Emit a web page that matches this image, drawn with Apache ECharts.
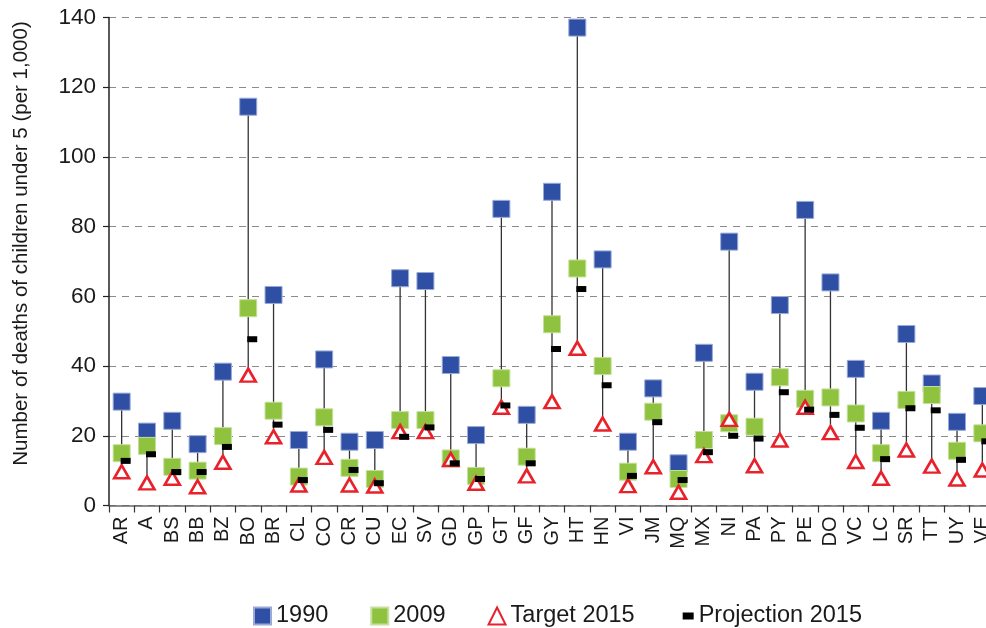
<!DOCTYPE html>
<html>
<head>
<meta charset="utf-8">
<script src="https://cdn.jsdelivr.net/npm/echarts@6/dist/echarts.min.js"></script>
<style>
  html, body { margin: 0; padding: 0; background: #fff; }
  #chart { width: 986px; height: 628px; }
</style>
</head>
<body>
<div id="chart"></div>
<script>
  const categories = ['AR', 'A', 'BS', 'BB', 'BZ', 'BO', 'BR', 'CL', 'CO', 'CR', 'CU', 'EC', 'SV', 'GD', 'GP', 'GT', 'GF', 'GY', 'HT', 'HN', 'VI', 'JM', 'MQ', 'MX', 'NI', 'PA', 'PY', 'PE', 'DO', 'VC', 'LC', 'SR', 'TT', 'UY', 'VE'];
  const y1990 = [29.8, 21.2, 24.3, 17.6, 38.4, 114.4, 60.4, 18.8, 41.9, 18.3, 18.8, 65.2, 64.4, 40.3, 20.2, 85.1, 26.0, 90.0, 137.1, 70.6, 18.3, 33.6, 12.1, 43.8, 75.7, 35.5, 57.5, 84.8, 64.0, 39.2, 24.3, 49.2, 35.0, 24.0, 31.4];
  const y2009 = [15.0, 17.1, 11.1, 10.0, 19.9, 56.6, 27.2, 8.3, 25.3, 10.8, 7.6, 24.5, 24.5, 13.5, 8.5, 36.5, 14.0, 52.0, 68.0, 40.0, 9.7, 26.9, 7.6, 18.8, 23.6, 22.6, 36.8, 30.6, 31.0, 26.4, 15.0, 30.3, 31.7, 15.7, 20.7];
  const target2015 = [9.7, 6.5, 7.8, 5.4, 12.4, 37.4, 19.7, 5.9, 13.8, 5.9, 5.6, 21.2, 21.2, 13.2, 6.4, 28.2, 8.5, 29.8, 45.1, 23.4, 5.7, 11.1, 3.8, 14.3, 24.7, 11.4, 18.8, 28.2, 20.9, 12.6, 7.8, 15.9, 11.3, 7.6, 10.2];
  const projection2015 = [12.8, 14.7, 9.6, 9.6, 16.8, 47.7, 23.2, 7.3, 21.7, 10.2, 6.4, 19.7, 22.4, 12.1, 7.6, 28.7, 12.1, 44.9, 62.1, 34.5, 8.5, 23.9, 7.3, 15.3, 20.0, 19.2, 32.5, 27.5, 26.0, 22.3, 13.3, 27.9, 27.3, 13.1, 18.4];
  const yTicks = { min: 0, max: 140, interval: 20 };

  // high-low lines: from the largest to the smallest value of each country
  const ranges = categories.map((c, i) => {
    const vals = [y1990[i], y2009[i], target2015[i], projection2015[i]];
    return [i, Math.max(...vals), Math.min(...vals)];
  });

  const font = 'Liberation Sans, Arial, sans-serif';
  // small black bar for the legend, padded out to the full icon box
  const projIcon = 'path://M0,0L0.01,0Z M17,17L17.01,17Z M6,5L17,5L17,12L6,12Z';
  const myChart = echarts.init(document.getElementById('chart'));

  myChart.setOption({
    animation: false,
    textStyle: { fontFamily: font },
    grid: { left: 109, right: -9, top: 17.5, bottom: 122.5, containLabel: false, outerBoundsMode: 'none' },
    legend: {
      bottom: -5,
      left: 248,
      itemGap: 42,
      itemWidth: 17,
      itemHeight: 17,
      textStyle: { fontSize: 23.5, color: '#1a1a1a', fontFamily: font },
      data: [
        { name: '1990', icon: 'rect' },
        { name: '2009', icon: 'rect' },
        { name: 'Target 2015', icon: 'triangle' },
        { name: 'Projection 2015', icon: projIcon, itemStyle: { color: '#000' } },
      ],
    },
    xAxis: {
      type: 'category',
      data: categories,
      axisLine: { lineStyle: { color: '#666', width: 1.5 } },
      axisTick: { show: true, length: 7, lineStyle: { color: '#333', width: 1.2 } },
      axisLabel: { rotate: 90, fontSize: 20, color: '#1a1a1a', margin: 11, fontFamily: font, interval: 0 },
    },
    yAxis: {
      type: 'value',
      min: yTicks.min,
      max: yTicks.max,
      interval: yTicks.interval,
      name: 'Number of deaths of children under 5 (per 1,000)',
      nameLocation: 'middle',
      nameGap: 77,
      nameTextStyle: { fontSize: 20.5, color: '#1a1a1a', fontFamily: font, padding: [0, 0, 0, 36] },
      axisLine: { show: true, lineStyle: { color: '#222', width: 1.5 } },
      axisTick: { show: true, length: 6, lineStyle: { color: '#222', width: 1.2 } },
      axisLabel: { fontSize: 22.5, color: '#1a1a1a', margin: 13, fontFamily: font },
      splitLine: { lineStyle: { color: '#8a8a8a', type: [7, 6], width: 1.2 } },
    },
    series: [
      {
        type: 'custom',
        name: 'range',
        z: 1,
        data: ranges,
        renderItem(params, api) {
          const top = api.coord([api.value(0), api.value(1)]);
          const bottom = api.coord([api.value(0), api.value(2)]);
          return {
            type: 'line',
            shape: { x1: top[0], y1: top[1], x2: bottom[0], y2: bottom[1] },
            style: { stroke: '#333', lineWidth: 1.3 },
          };
        },
      },
      {
        name: '1990',
        type: 'scatter',
        z: 3,
        symbol: 'rect',
        symbolSize: 17,
        itemStyle: { color: '#2E4FA3', borderColor: '#9aaad8', borderWidth: 1, opacity: 1 },
        data: y1990,
      },
      {
        name: '2009',
        type: 'scatter',
        z: 4,
        symbol: 'rect',
        symbolSize: 17,
        itemStyle: { color: '#8FC23E', borderColor: '#c4e09a', borderWidth: 1, opacity: 1 },
        data: y2009,
      },
      {
        name: 'Target 2015',
        type: 'scatter',
        z: 5,
        symbol: 'triangle',
        symbolSize: [15, 13],
        itemStyle: { color: '#fff', borderColor: '#E8212B', borderWidth: 2.6, opacity: 1 },
        data: target2015,
      },
      {
        name: 'Projection 2015',
        type: 'scatter',
        z: 6,
        symbol: 'rect',
        symbolSize: [10, 6],
        symbolOffset: [4, 0],
        itemStyle: { color: '#000', opacity: 1 },
        data: projection2015,
      },
    ],
  });
</script>
</body>
</html>
